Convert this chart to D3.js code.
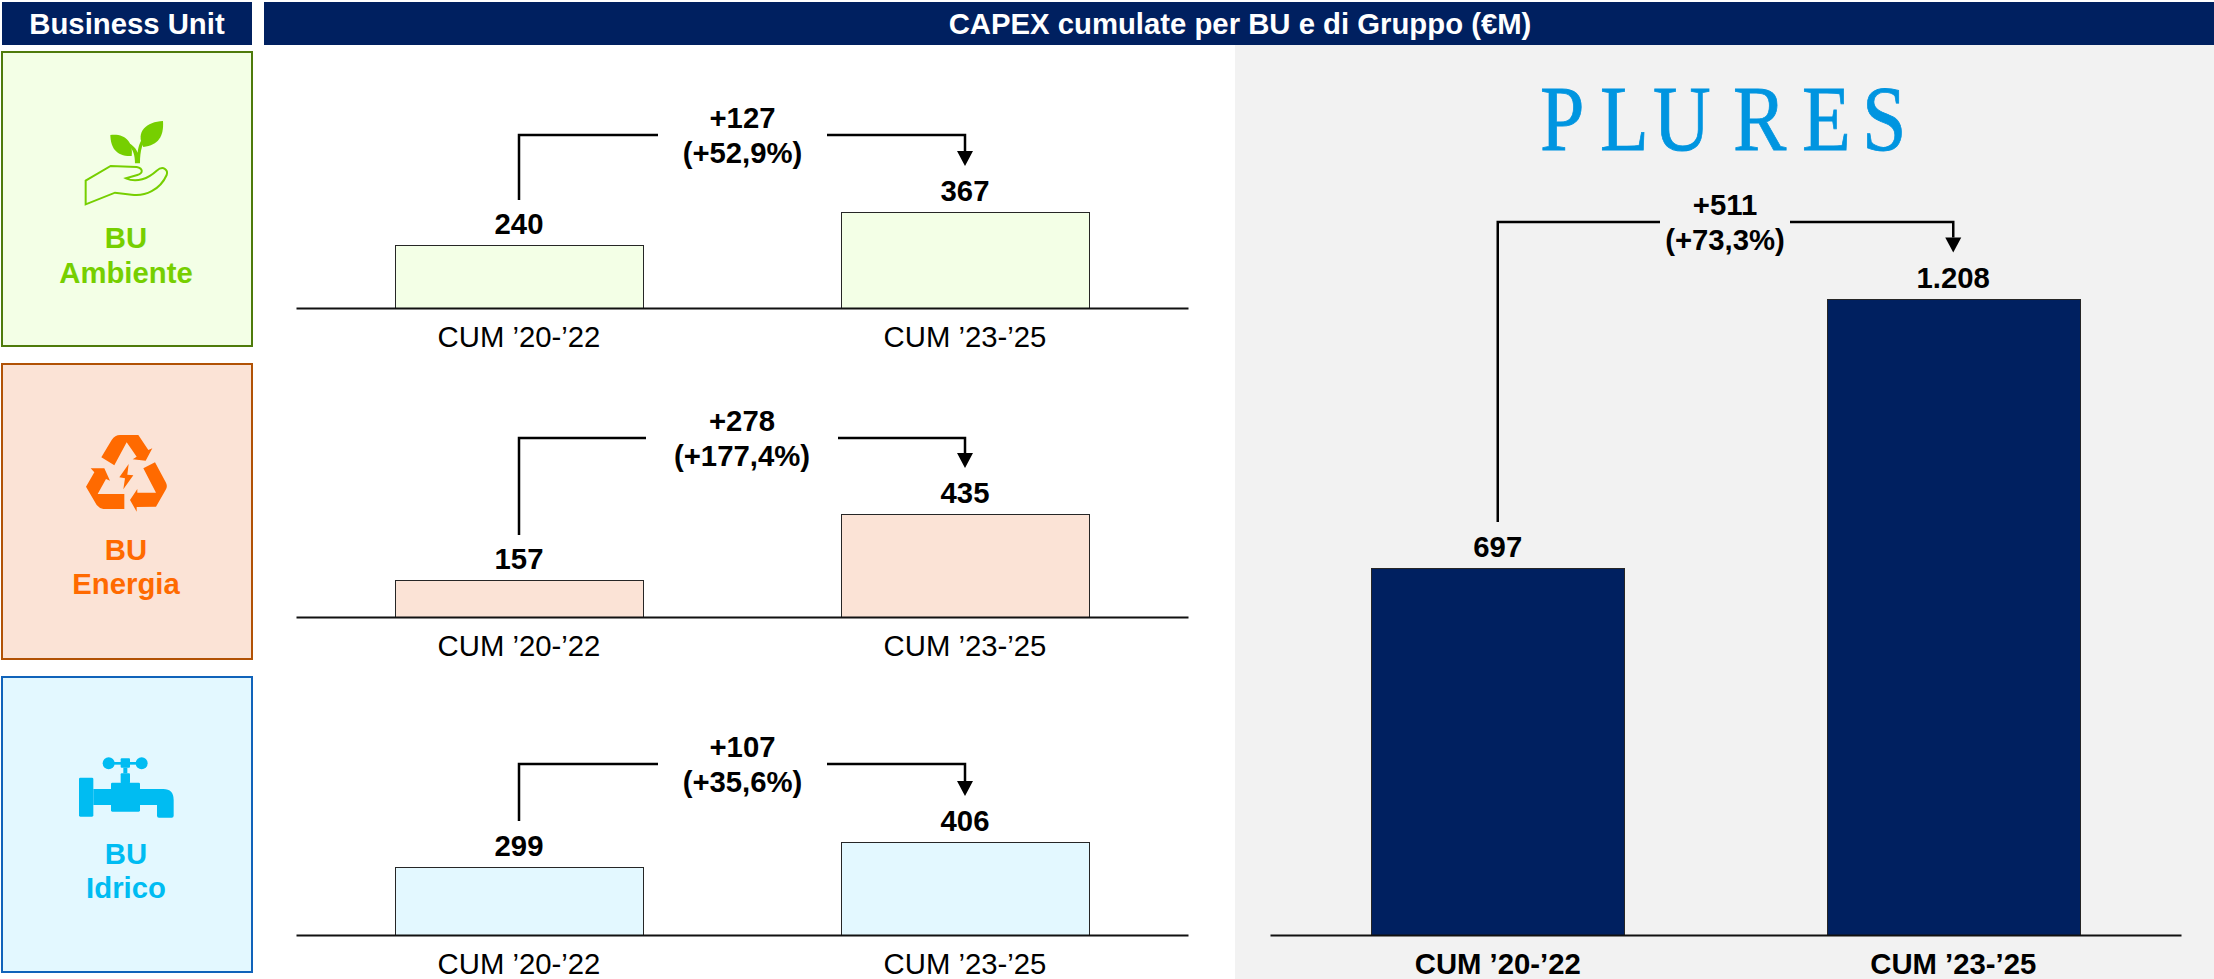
<!DOCTYPE html>
<html>
<head>
<meta charset="utf-8">
<script src="https://d3js.org/d3.v7.min.js"></script>
<style>
  body { margin: 0; background: #fff; }
  svg { font-family: "Liberation Sans", Arial, sans-serif; }
</style>
</head>
<body>
<script>
// values in EUR M
var periods = ["CUM ’20-’22", "CUM ’23-’25"];
var ambienteValues = [240, 367];
var energiaValues = [157, 435];
var idricoValues = [299, 406];
var gruppoValues = [697, 1208];
var valueLabelsGruppo = ["697", "1.208"];
var buNames = ["Ambiente", "Energia", "Idrico"];
var deltaAbs = ["+127", "+278", "+107"];
var deltaPct = ["(+52,9%)", "(+177,4%)", "(+35,6%)"];
var gruppoDelta = ["+511", "(+73,3%)"];

var width = 2214, height = 979;
var navy = "#002060";
var fontSize = 29.3;

var svg = d3.select("body").append("svg")
    .attr("width", width)
    .attr("height", height)
    .style("display", "block");

// headers and grey panel
svg.append("rect").attr("x", 1235).attr("y", 45).attr("width", 979).attr("height", 934).attr("fill", "#f2f2f2");
svg.append("rect").attr("x", 2).attr("y", 2).attr("width", 250).attr("height", 43).attr("fill", navy);
svg.append("rect").attr("x", 264).attr("y", 2).attr("width", 1950).attr("height", 43).attr("fill", navy);
svg.append("text").attr("x", 127).attr("y", 34).attr("text-anchor", "middle")
    .attr("font-size", fontSize).attr("font-weight", "bold").attr("fill", "#fff").text("Business Unit");
svg.append("text").attr("x", 1240).attr("y", 34).attr("text-anchor", "middle")
    .attr("font-size", fontSize).attr("font-weight", "bold").attr("fill", "#fff").text("CAPEX cumulate per BU e di Gruppo (€M)");

// logo: serif squeezed to the narrow letter shapes, each letter placed on its own
var logoScale = 0.85;
svg.append("text")
    .attr("transform", "scale(" + logoScale + ",1)")
    .attr("x", [1541, 1601, 1654, 1734, 1803, 1863].map(function (d) { return (d - 1) / logoScale; }).join(" "))
    .attr("y", 150)
    .attr("font-family", "Liberation Serif")
    .attr("font-size", 94)
    .attr("fill", "#0095e0")
    .attr("stroke", "#0095e0")
    .attr("stroke-width", 0.8)
    .text("PLURES");

var panels = [
  { values: ambienteValues, bg: "#f3ffe6", border: "#4e7b0b", color: "#76cf00", box: [52, 346], base: 308, top: 212, link: 135, leftEnd: 200, gap: [658, 827], lab: [248, 283], icon: iconAmbiente },
  { values: energiaValues, bg: "#fbe3d6", border: "#b15205", color: "#ff6a00", box: [364, 659], base: 617, top: 514, link: 438, leftEnd: 535, gap: [646, 838], lab: [560, 594], icon: iconEnergia },
  { values: idricoValues, bg: "#e3f8ff", border: "#1063ba", color: "#00bcf2", box: [677, 972], base: 935, top: 842, link: 764, leftEnd: 821, gap: [658, 827], lab: [864, 898], icon: iconIdrico }
];

panels.forEach(function (p, i) {
  svg.append("rect")
      .attr("x", 2).attr("y", p.box[0])
      .attr("width", 250).attr("height", p.box[1] - p.box[0])
      .attr("fill", p.bg).attr("stroke", p.border).attr("stroke-width", 2);
  p.icon(svg.append("g").attr("fill", p.color), p.color);
  svg.selectAll(null).data(["BU", buNames[i]]).enter().append("text")
      .attr("x", 126)
      .attr("y", function (d, j) { return p.lab[j]; })
      .attr("text-anchor", "middle")
      .attr("font-size", fontSize).attr("font-weight", "bold").attr("fill", p.color)
      .text(function (d) { return d; });

  drawChart({
    values: p.values,
    labels: p.values.map(String),
    fill: p.bg,
    xRange: [296, 1188],
    base: p.base, top: p.top, link: p.link,
    gap: p.gap,
    leftEnd: p.leftEnd,
    delta: [deltaAbs[i], deltaPct[i]],
    bold: false
  });
});

drawChart({
  values: gruppoValues,
  labels: valueLabelsGruppo,
  fill: navy,
  xRange: [1270, 2181],
  base: 935, top: 298.5, link: 222,
  gap: [1660, 1790],
  leftEnd: 522,
  delta: gruppoDelta,
  bold: true
});

function drawChart(o) {
  var g = svg.append("g");
  var x = d3.scaleBand().domain(periods).range(o.xRange).paddingInner(0.444).paddingOuter(0.222);
  var y = d3.scaleLinear().domain([0, d3.max(o.values)]).range([o.base, o.top]);
  var rows = periods.map(function (d, i) { return { period: d, value: o.values[i], label: o.labels[i] }; });

  g.selectAll("rect").data(rows).enter().append("rect")
      .attr("x", function (d) { return Math.round(x(d.period)) + 0.5; })
      .attr("y", function (d) { return Math.round(y(d.value)) + 0.5; })
      .attr("width", Math.round(x.bandwidth()))
      .attr("height", function (d) { return o.base - Math.round(y(d.value)); })
      .attr("fill", o.fill)
      .attr("stroke", "#262626")
      .attr("stroke-width", 1);

  var axis = g.append("g")
      .attr("transform", "translate(0," + o.base + ")")
      .call(d3.axisBottom(x).tickSize(0).tickSizeOuter(0).tickPadding(18));
  axis.select(".domain").attr("stroke", "#111").attr("stroke-width", 2);
  axis.selectAll("text")
      .attr("font-family", null)
      .attr("font-size", fontSize)
      .attr("font-weight", o.bold ? "bold" : "normal")
      .attr("fill", "#000");
  axis.attr("font-family", null).attr("font-size", null);

  g.selectAll(".val").data(rows).enter().append("text")
      .attr("class", "val")
      .attr("x", function (d) { return x(d.period) + x.bandwidth() / 2; })
      .attr("y", function (d) { return y(d.value) - 11; })
      .attr("text-anchor", "middle")
      .attr("font-size", fontSize).attr("font-weight", "bold")
      .text(function (d) { return d.label; });

  // bracket between the two bars
  var x0 = x(periods[0]) + x.bandwidth() / 2;
  var x1 = x(periods[1]) + x.bandwidth() / 2;
  var tip = y(o.values[1]) - 46;
  var link = d3.path();
  link.moveTo(x0, o.leftEnd);
  link.lineTo(x0, o.link);
  link.lineTo(o.gap[0], o.link);
  link.moveTo(o.gap[1], o.link);
  link.lineTo(x1, o.link);
  link.lineTo(x1, tip - 15);
  g.append("path").attr("d", link.toString()).attr("fill", "none").attr("stroke", "#000").attr("stroke-width", 2.5);
  g.append("path")
      .attr("d", "M" + (x1 - 8) + "," + (tip - 15) + "H" + (x1 + 8) + "L" + x1 + "," + tip + "Z")
      .attr("fill", "#000");

  g.selectAll(".delta").data(o.delta).enter().append("text")
      .attr("class", "delta")
      .attr("x", (o.gap[0] + o.gap[1]) / 2)
      .attr("y", function (d, i) { return o.link + (i == 0 ? -7 : 28); })
      .attr("text-anchor", "middle")
      .attr("font-size", fontSize).attr("font-weight", "bold")
      .text(function (d) { return d; });
}

// icons, traced in 3x crop units
function iconAmbiente(g, color) {
  var t = g.attr("transform", "scale(" + 1 / 3 + ")");
  t.append("path").attr("d", "M331,405C375,400 400,425 395,468C350,470 332,445 331,405Z");
  t.append("path").attr("d", "M489,363C440,365 405,395 430,441C475,435 492,410 489,363Z");
  t.append("path").attr("d", "M405,490C405,465 400,450 385,435L392,432C405,442 410,450 413,458C415,440 420,420 440,400L445,405C428,425 420,450 420,490Z");
  t.append("path")
      .attr("d", "M257,613L257,542L332,498L410,501C430,505 430,520 412,525L378,535C410,550 445,535 470,512C490,495 505,510 500,525C480,570 435,590 395,584L345,578Z")
      .attr("fill", "none").attr("stroke", color).attr("stroke-width", 6);
}

function iconEnergia(g) {
  var t = g.attr("transform", "translate(0,360) scale(" + 1 / 3 + ")");
  t.append("path").attr("d", "M304,292L335,240Q345,225 360,225L415,225L445,270L457,265L437,302L398,298L410,290L380,247L343,316Z");
  t.append("path").attr("d", "M465,307L498,368Q503,378 498,388L468,440L410,441L410,455L390,420L412,387L412,398L468,398L430,325Z");
  t.append("path").attr("d", "M272,325L313,325L330,362L318,357L293,402L373,402L373,447L310,447Q298,445 290,435L258,380L283,337Z");
  t.append("path").attr("d", "M386,312L358,352L375,355L370,388L400,346L382,344Z");
}

function iconIdrico(g) {
  var t = g.attr("transform", "translate(0,670) scale(" + 1 / 3 + ")");
  t.append("circle").attr("cx", 326).attr("cy", 280).attr("r", 18);
  t.append("circle").attr("cx", 425).attr("cy", 280).attr("r", 18);
  t.append("rect").attr("x", 326).attr("y", 276).attr("width", 99).attr("height", 8);
  t.append("rect").attr("x", 362).attr("y", 265).attr("width", 28).attr("height", 28).attr("rx", 3);
  t.append("rect").attr("x", 370).attr("y", 293).attr("width", 12).attr("height", 17);
  t.append("rect").attr("x", 362).attr("y", 310).attr("width", 28).attr("height", 30).attr("rx", 3);
  t.append("rect").attr("x", 333).attr("y", 338).attr("width", 87).attr("height", 87).attr("rx", 4);
  t.append("rect").attr("x", 237).attr("y", 323).attr("width", 43).attr("height", 117).attr("rx", 4);
  t.append("rect").attr("x", 280).attr("y", 357).attr("width", 53).attr("height", 48);
  t.append("path").attr("d", "M420,357H490Q521,357 521,390V437Q521,443 515,443H477Q471,443 471,437V405H420Z");
}
</script>
</body>
</html>
